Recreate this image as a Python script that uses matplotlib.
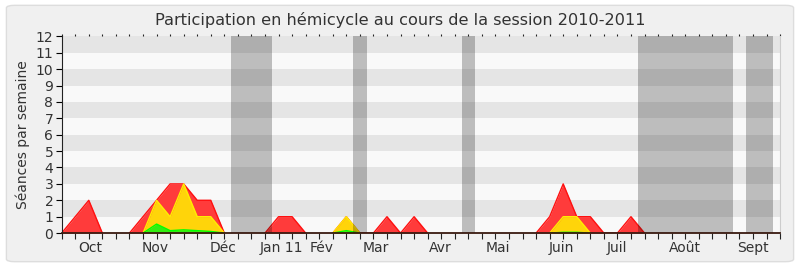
import matplotlib
matplotlib.use('Agg')
import matplotlib.pyplot as plt
import numpy as np
from matplotlib.patches import FancyBboxPatch

# séances par semaine, une valeur par semaine de la session
semaines = list(range(53))
presences = [0, 1, 2, 0, 0, 0, 1, 2, 3, 3, 2, 2, 0, 0, 0, 0, 1, 1, 0, 0,
             0, 1, 0, 0, 1, 0, 1, 0, 0, 0, 0, 0, 0, 0, 0, 0, 1, 3, 1, 1,
             0, 0, 1, 0, 0, 0, 0, 0, 0, 0, 0, 0, 0]
interventions = [0, 0, 0, 0, 0, 0, 0, 2, 1, 3, 1, 1, 0, 0, 0, 0, 0, 0, 0, 0,
                 0, 1, 0, 0, 0, 0, 0, 0, 0, 0, 0, 0, 0, 0, 0, 0, 0, 1, 1, 0,
                 0, 0, 0, 0, 0, 0, 0, 0, 0, 0, 0, 0, 0]
questions = [0, 0, 0, 0, 0, 0, 0, 0.55, 0.15, 0.2, 0.15, 0.1, 0, 0, 0, 0, 0, 0, 0, 0,
             0, 0.15, 0, 0, 0, 0, 0, 0, 0, 0, 0, 0, 0, 0, 0, 0, 0, 0.05, 0.05, 0,
             0, 0, 0, 0, 0, 0, 0, 0, 0, 0, 0, 0, 0]

# vacances parlementaires (début, fin) en semaines
vacances = [(12.5, 15.5), (21.5, 22.5), (29.5, 30.5), (42.5, 49.5), (50.5, 52.5)]

mois = ['Oct', 'Nov', 'Déc', 'Jan 11', 'Fév', 'Mar', 'Avr', 'Mai', 'Juin', 'Juil', 'Août', 'Sept']
pos_mois = [2.1, 6.9, 11.9, 16.2, 19.2, 23.2, 27.9, 32.2, 36.9, 41.0, 46.0, 51.0]


def contour(vals):
    # on ne garde le trait que près des valeurs non nulles
    v = np.array(vals, dtype=float)
    garde = v > 0
    garde[1:] |= v[:-1] > 0
    garde[:-1] |= v[1:] > 0
    return np.where(garde, v, np.nan)


fig = plt.figure(figsize=(8, 2.67), dpi=100)
fig.patch.set_facecolor('white')
fig.patches.append(FancyBboxPatch((0.008, 0.02), 0.984, 0.96, boxstyle='round,pad=0,rounding_size=0.01',
                                  transform=fig.transFigure, facecolor='#f0f0f0', edgecolor='#dddddd',
                                  linewidth=1, zorder=-10))

ax = fig.add_axes([0.0771, 0.127, 0.898, 0.737])
ax.set_facecolor('#f9f9f9')

# bandes horizontales alternées
for k in range(1, 12, 2):
    ax.axhspan(k, k + 1, color='#e5e5e5', lw=0, zorder=0)

series = [(presences, '#ff3b3b', '#ff1010'),
          (interventions, '#ffd40a', '#ffee00'),
          (questions, '#33ee11', '#00ff00')]
for z, (vals, fond, bord) in enumerate(series):
    ax.fill_between(semaines, vals, color=fond, lw=0, zorder=2 + z)
    ax.plot(semaines, contour(vals), color=bord, lw=1, zorder=2.5 + z)

for debut, fin in vacances:
    ax.axvspan(debut, fin, color='black', alpha=0.24, lw=0, zorder=5)

ax.set_xlim(0, 53)
ax.set_ylim(0, 12)
ax.set_yticks(range(13))
ax.set_xticks(range(54))
ax.set_xticklabels([])
ax.tick_params(axis='x', which='major', length=4, width=0.8, color='#222222', top=True)
ax.tick_params(axis='y', length=4, width=0.8, pad=2, labelsize=10, labelcolor='#333333')
for t in ax.xaxis.get_major_ticks():
    t.tick2line.set_markersize(1.5)

# noms des mois sous l'axe
for p, m in zip(pos_mois, mois):
    ax.text(p, -0.075, m, transform=ax.get_xaxis_transform(), ha='center', va='center',
            fontsize=10, color='#333333')

ax.spines['top'].set_visible(False)
ax.spines['right'].set_color('#cccccc')
ax.spines['left'].set_color('#222222')
ax.spines['bottom'].set_color('#3a1a10')
ax.spines['bottom'].set_linewidth(1.3)
ax.spines['bottom'].set_zorder(7)

ax.set_ylabel('Séances par semaine', fontsize=10, color='#333333', labelpad=4)
fig.text(0.5, 0.925, 'Participation en hémicycle au cours de la session 2010-2011',
         ha='center', va='center', fontsize=11.6, color='#333333')

fig.savefig('out.png', dpi=100, facecolor=fig.get_facecolor())
